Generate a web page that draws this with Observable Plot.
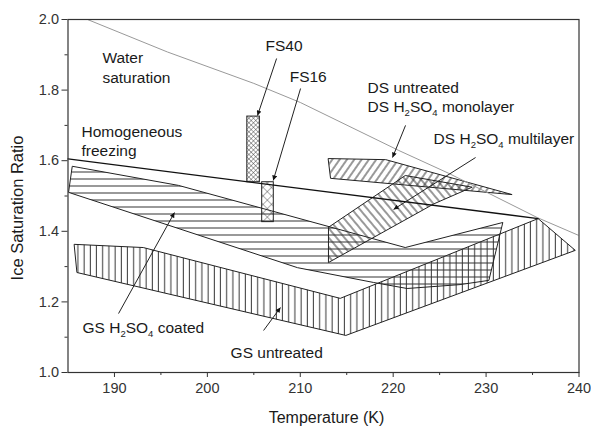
<!DOCTYPE html>
<html><head><meta charset="utf-8">
<script src="https://cdn.jsdelivr.net/npm/d3@7"></script>
<script src="https://cdn.jsdelivr.net/npm/@observablehq/plot@0.6"></script>
<style>body{margin:0;background:#fff;}</style>
</head><body><div id="chart"></div>
<script>
// ---- data (Temperature K, Ice saturation ratio) ----
const xTicks = [190, 200, 210, 220, 230, 240];
const xMinor = [195, 205, 215, 225, 235];
const yTicks = [1.0, 1.2, 1.4, 1.6, 1.8, 2.0];
const yMinor = [1.1, 1.3, 1.5, 1.7, 1.9];

const waterSaturation = [[187.1,2.0],[195.7,1.908],[205,1.819],[210,1.765],[220.6,1.629],[226,1.564],[235.5,1.439],[240,1.388]];
const homogeneousFreezing = [[185,1.605],[235.6,1.436]];

const gsUntreated = [[185.7,1.363],[193.1,1.354],[214.3,1.210],[235.6,1.436],[239.6,1.346],[214.9,1.105],[186.0,1.283]];
const gsCoated = [[185.5,1.584],[196.9,1.530],[221.3,1.354],[231.8,1.425],[230.3,1.261],[227.2,1.249],[221.5,1.238],[217.9,1.255],[209.7,1.297],[185.1,1.510]];
const dsUntreated = [[213.04,1.606],[219.2,1.603],[232.8,1.504],[213.3,1.550]];
const dsMultilayer = [[213.07,1.412],[221.3,1.558],[228.5,1.525],[224.4,1.478],[213.07,1.312]];
const fs40 = [{x1:204.3, x2:205.65, y1:1.539, y2:1.725}];
const fs16 = [{x1:205.9, x2:207.15, y1:1.426, y2:1.539}];

const labels = [
  {x:188.7, y:1.867, text:"Water\nsaturation", lh:1.33},
  {x:186.45, y:1.657, text:"Homogeneous\nfreezing", lh:1.2},
  {x:206.26, y:1.926, text:"FS40", lh:1},
  {x:208.86, y:1.836, text:"FS16", lh:1},
  {x:217.24, y:1.807, text:"DS untreated", lh:1},
  {x:217.24, y:1.751, text:"DS H₂SO₄ monolayer", lh:1},
  {x:224.35, y:1.660, text:"DS H₂SO₄ multilayer", lh:1},
  {x:186.56, y:1.125, text:"GS H₂SO₄ coated", lh:1},
  {x:202.5, y:1.054, text:"GS untreated", lh:1}
];
const arrows = [
  {x1:207.45, y1:1.8895, x2:205.4, y2:1.728},
  {x1:210.03, y1:1.8045, x2:207.09, y2:1.544},
  {x1:221.33, y1:1.700, x2:219.93, y2:1.609},
  {x1:228.87, y1:1.609, x2:220.04, y2:1.462},
  {x1:190.44, y1:1.167, x2:196.46, y2:1.453},
  {x1:206.05, y1:1.119, x2:207.87, y2:1.184}
];

const poly = (data, fill) => Plot.line(data, {x: d => d[0], y: d => d[1], curve: "linear-closed", fill, stroke: "#222", strokeWidth: 1});
const lab = (lh) => Plot.text(labels.filter(d => d.lh === lh), {x:"x", y:"y", text:"text", textAnchor:"start", lineAnchor:"middle", fontSize:15.5, lineHeight:lh, fill:"#1a1a1a"});

const svg = Plot.plot({
  width: 591, height: 427,
  marginLeft: 67.5, marginRight: 12.5, marginTop: 19, marginBottom: 55,
  style: {fontFamily: "'Liberation Sans', Arial, sans-serif", fontSize: "14.5px", color: "#222", background: "#fff"},
  x: {domain: [185, 240]},
  y: {domain: [1.0, 2.0]},
  marks: [
    poly(gsUntreated, "url(#pV)"),
    poly(gsCoated, "url(#pH)"),
    poly(dsUntreated, "url(#pS)"),
    poly(dsMultilayer, "url(#pB)"),
    Plot.rect(fs40, {x1:"x1", x2:"x2", y1:"y1", y2:"y2", fill:"url(#pX1)", stroke:"#222", strokeWidth:1}),
    Plot.rect(fs16, {x1:"x1", x2:"x2", y1:"y1", y2:"y2", fill:"url(#pX2)", stroke:"#222", strokeWidth:1}),
    Plot.line(waterSaturation, {x: d => d[0], y: d => d[1], stroke: "#999", strokeWidth: 1, clip: true}),
    Plot.line(homogeneousFreezing, {x: d => d[0], y: d => d[1], stroke: "#111", strokeWidth: 1.3}),
    Plot.link(arrows, {x1:"x1", y1:"y1", x2:"x2", y2:"y2", stroke:"#222", strokeWidth:1}),
    lab(1), lab(1.33), lab(1.2),
    Plot.axisX({ticks: xTicks, tickSize: 5, tickPadding: 5, fontSize: 14.5, label: null, stroke: "#333", fill: "#333"}),
    Plot.axisX({ticks: xMinor, tickSize: 3, text: null, label: null, stroke: "#333"}),
    Plot.axisY({ticks: yTicks, tickSize: 6, tickPadding: 3, fontSize: 14.5, tickFormat: d3.format(".1f"), label: null, stroke: "#333", fill: "#333"}),
    Plot.axisY({ticks: yMinor, tickSize: 3, text: null, label: null, stroke: "#333"}),
    Plot.frame({stroke: "#333", strokeWidth: 1.2}),
    Plot.text(["Temperature (K)"], {frameAnchor: "bottom", textAnchor: "middle", lineAnchor: "middle", dx: 3, dy: 45, fontSize: 16, fill: "#1a1a1a"}),
    Plot.text(["Ice Saturation Ratio"], {frameAnchor: "left", textAnchor: "middle", lineAnchor: "middle", dx: -50, dy: 12, rotate: -90, fontSize: 16.5, fill: "#1a1a1a"})
  ]
});

const ns = "http://www.w3.org/2000/svg";
const defs = document.createElementNS(ns, "defs");
const hs = 'stroke="#333" stroke-width="1" fill="none"';
defs.innerHTML = `
<pattern id="pH" patternUnits="userSpaceOnUse" width="8" height="7"><path d="M0,3.5H8" ${hs}/></pattern>
<pattern id="pV" patternUnits="userSpaceOnUse" width="6.2" height="8"><path d="M3,0V8" ${hs}/></pattern>
<pattern id="pS" patternUnits="userSpaceOnUse" width="6" height="8" patternTransform="rotate(35)"><path d="M3,0V8" ${hs}/></pattern>
<pattern id="pB" patternUnits="userSpaceOnUse" width="6" height="8" patternTransform="rotate(-40)"><path d="M3,0V8" ${hs}/></pattern>
<pattern id="pX1" patternUnits="userSpaceOnUse" width="3.2" height="3.2" patternTransform="rotate(45)"><path d="M0,0V3.2M0,0H3.2" stroke="#333" stroke-width="0.8" fill="none"/></pattern>
<pattern id="pX2" patternUnits="userSpaceOnUse" width="6" height="6" patternTransform="rotate(45)"><path d="M0,0V6M0,0H6" stroke="#333" stroke-width="0.8" fill="none"/></pattern>
<marker id="ah" viewBox="0 0 10 10" refX="10" refY="5" markerWidth="7" markerHeight="5" orient="auto" markerUnits="userSpaceOnUse"><path d="M0,0L10,5L0,10z" fill="#111"/></marker>`;
svg.insertBefore(defs, svg.firstChild);

svg.querySelectorAll('g[aria-label="link"] path').forEach(p => p.setAttribute("marker-end", "url(#ah)"));

svg.querySelectorAll("text").forEach(t => {
  const s = t.textContent;
  if (!/[₂₄]/.test(s) || t.querySelector("tspan")) return;
  while (t.firstChild) t.removeChild(t.firstChild);
  let shifted = false;
  for (const part of s.split(/([₂₄])/)) {
    if (!part) continue;
    const ts = document.createElementNS(ns, "tspan");
    if (part === "₂" || part === "₄") {
      ts.textContent = part === "₂" ? "2" : "4";
      ts.setAttribute("font-size", "9.5");
      ts.setAttribute("dy", "4");
      shifted = true;
    } else {
      ts.textContent = part;
      if (shifted) { ts.setAttribute("dy", "-4"); shifted = false; }
    }
    t.appendChild(ts);
  }
});

document.getElementById("chart").appendChild(svg);
</script>
</body></html>
